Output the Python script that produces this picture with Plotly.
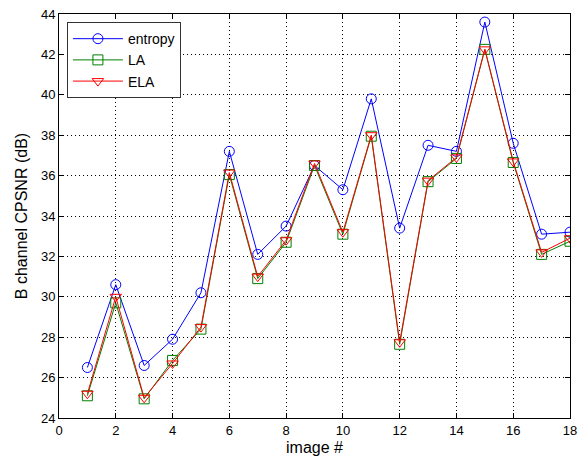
import plotly.graph_objects as go

images = list(range(1, 19))
entropy = [26.5, 30.6, 26.6, 27.9, 30.2, 37.2, 32.1, 33.5, 36.5, 35.3, 39.8, 33.4, 37.5, 37.2, 43.6, 37.6, 33.1, 33.2]
la = [25.1, 29.7, 24.95, 26.85, 28.4, 36.05, 30.9, 32.7, 36.5, 33.1, 37.95, 27.65, 35.7, 36.85, 42.25, 36.65, 32.1, 32.75]
ela = [25.2, 30.0, 25.0, 26.7, 28.5, 36.15, 31.0, 32.8, 36.6, 33.2, 38.0, 27.75, 35.75, 36.9, 42.25, 36.7, 32.2, 32.9]

series = [
    ("entropy", entropy, "#0000ff", "circle-open"),
    ("LA", la, "#008000", "square-open"),
    ("ELA", ela, "#ff0000", "triangle-down-open"),
]

fig = go.Figure()
for name, vals, color, sym in series:
    fig.add_trace(go.Scatter(
        x=images, y=vals, name=name, mode="lines+markers",
        line=dict(color=color, width=1),
        marker=dict(symbol=sym, size=10, color=color, line=dict(width=1, color=color)),
    ))

axis_common = dict(
    showline=True, linecolor="black", linewidth=1, mirror="ticks",
    ticks="inside", ticklen=5, tickcolor="black",
    showgrid=True, gridcolor="black", gridwidth=1, griddash="1px,3px",
    zeroline=False, tickfont=dict(size=13, color="black"),
)

fig.update_layout(
    width=584, height=461,
    margin=dict(l=59, r=7, t=12, b=43),
    paper_bgcolor="white", plot_bgcolor="white",
    font=dict(family="Liberation Sans, Arial, sans-serif", size=13, color="black"),
    xaxis=dict(range=[0, 18], dtick=2, title=dict(text="image #", standoff=5), **axis_common),
    yaxis=dict(range=[24, 44], dtick=2, title=dict(text="B channel CPSNR (dB)", standoff=9), **axis_common),
    legend=dict(x=0.0155, y=0.98, xanchor="left", yanchor="top",
                bgcolor="white", bordercolor="#333333", borderwidth=1,
                font=dict(size=14), tracegroupgap=0, itemwidth=50),
    showlegend=True,
)

fig.write_html("out.html", config={"displayModeBar": False},
               post_script="document.body.style.margin='0';document.body.style.overflow='hidden';")
